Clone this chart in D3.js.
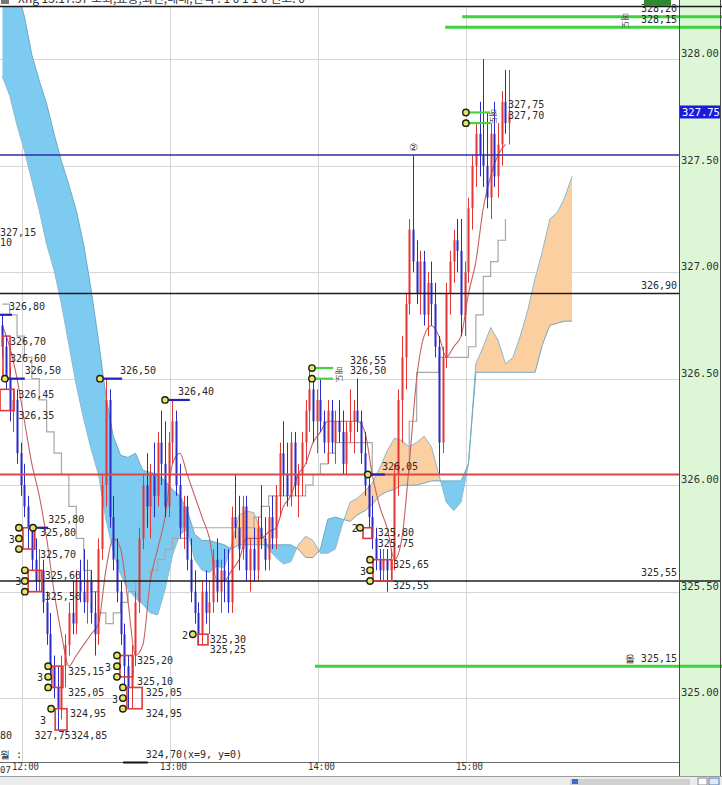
<!DOCTYPE html>
<html><head><meta charset="utf-8">
<script src="https://cdn.jsdelivr.net/npm/d3@7"></script>
<style>
body{margin:0;background:#fff;overflow:hidden}
svg{display:block}
text{font-family:"DejaVu Sans Mono","Liberation Mono",monospace}
</style></head>
<body><svg id="c" width="722" height="785"></svg>
<script>
// ---------------- DATA ----------------
const candleStart = "11:52:00";
const candlePeriodSec = 90;
const opens = [326.75,326.65,326.50,326.35,326.40,326.15,326.00,325.90,325.80,325.65,
325.55,325.60,325.45,325.30,325.15,325.05,324.95,325.15,325.25,325.40,
325.35,325.55,325.50,325.45,325.55,325.40,325.30,325.70,326.00,326.40,
325.85,325.65,325.50,325.30,325.15,325.05,325.20,325.45,325.75,326.00,
325.90,326.05,325.95,326.20,326.10,325.90,326.20,326.30,326.00,325.80,
325.90,325.65,325.50,325.40,325.30,325.50,325.40,325.45,325.65,325.50,
325.60,325.55,325.45,325.85,325.80,325.70,325.90,325.60,325.70,325.60,
325.80,325.75,325.65,325.85,325.75,325.95,326.15,326.05,325.95,326.20,
326.00,326.05,326.20,326.35,326.45,326.30,326.40,326.30,326.20,326.35,
326.20,326.30,326.25,326.10,326.25,326.30,326.35,326.30,326.15,326.00,
325.85,325.75,325.65,325.60,325.65,325.60,325.65,326.05,326.40,326.60,
326.85,327.20,327.05,326.90,327.05,326.80,326.95,326.85,326.65,326.20,
326.60,326.90,327.05,327.15,327.10,326.80,327.00,327.30,327.50,327.65,
327.55,327.50,327.35,327.65,327.45,327.60,327.80,327.70];
const highs = [326.80,326.70,326.55,326.45,326.45,326.20,326.10,325.95,325.80,325.75,
325.70,325.65,325.50,325.40,325.20,325.15,325.20,325.30,325.45,325.55,
325.60,325.65,325.70,325.65,325.60,325.50,325.75,326.05,326.50,326.45,
325.95,325.75,325.55,325.35,325.20,325.25,325.50,325.80,326.05,326.15,
326.10,326.20,326.25,326.35,326.30,326.25,326.40,326.35,326.10,325.95,
325.95,325.75,325.60,325.45,325.55,325.60,325.55,325.70,325.75,325.65,
325.70,325.70,325.90,326.05,325.95,325.95,325.95,325.75,325.80,325.85,
326.00,325.85,325.90,325.95,326.00,326.20,326.30,326.20,326.25,326.25,
326.10,326.25,326.40,326.55,326.50,326.45,326.50,326.35,326.40,326.40,
326.35,326.40,326.35,326.30,326.45,326.40,326.50,326.35,326.25,326.05,
325.95,325.80,325.70,325.70,325.70,325.70,326.10,326.45,326.70,326.90,
327.25,327.55,327.15,327.10,327.10,327.00,327.05,326.95,326.70,326.65,
326.95,327.10,327.20,327.25,327.25,327.05,327.35,327.55,327.70,327.80,
328.00,327.75,327.70,327.80,327.70,327.85,327.95,327.95];
const lows = [326.60,326.45,326.30,326.25,326.10,325.95,325.85,325.70,325.60,325.50,
325.50,325.40,325.25,325.10,325.00,324.85,324.90,325.05,325.20,325.30,
325.30,325.45,325.40,325.35,325.35,325.20,325.25,325.65,325.90,325.80,
325.60,325.45,325.25,325.05,324.95,324.95,325.15,325.40,325.70,325.80,
325.75,325.85,325.90,326.00,325.85,325.85,326.10,325.95,325.75,325.70,
325.60,325.45,325.35,325.25,325.25,325.35,325.30,325.40,325.45,325.40,
325.45,325.40,325.40,325.75,325.60,325.65,325.55,325.50,325.55,325.55,
325.70,325.60,325.60,325.70,325.70,325.85,325.95,325.90,325.90,325.95,
325.85,325.95,326.10,326.25,326.20,326.15,326.25,326.15,326.10,326.15,
326.10,326.20,326.05,326.05,326.20,326.15,326.25,326.10,325.95,325.80,
325.70,325.60,325.55,325.55,325.50,325.55,325.60,325.95,326.20,326.45,
326.80,327.00,326.85,326.80,326.75,326.70,326.75,326.60,326.05,326.15,
326.55,326.80,326.95,327.00,326.70,326.70,326.95,327.20,327.40,327.45,
327.40,327.30,327.25,327.40,327.35,327.50,327.65,327.60];
const closes = [326.65,326.50,326.35,326.40,326.15,326.00,325.90,325.80,325.65,325.55,
325.60,325.45,325.30,325.15,325.05,324.95,325.15,325.25,325.40,325.35,
325.55,325.50,325.45,325.55,325.40,325.30,325.70,326.00,326.40,325.85,
325.65,325.50,325.30,325.15,325.05,325.20,325.45,325.75,326.00,325.90,
326.05,325.95,326.20,326.10,325.90,326.20,326.30,326.00,325.80,325.90,
325.65,325.50,325.40,325.30,325.50,325.40,325.45,325.65,325.50,325.60,
325.55,325.45,325.85,325.80,325.70,325.90,325.60,325.70,325.60,325.80,
325.75,325.65,325.85,325.75,325.95,326.15,326.05,325.95,326.20,326.00,
326.05,326.20,326.35,326.45,326.30,326.40,326.30,326.20,326.35,326.20,
326.30,326.25,326.10,326.25,326.30,326.35,326.30,326.15,326.00,325.85,
325.75,325.65,325.60,325.65,325.60,325.65,326.05,326.40,326.60,326.85,
327.20,327.05,326.90,327.05,326.80,326.95,326.85,326.65,326.20,326.60,
326.90,327.05,327.15,327.10,326.80,327.00,327.30,327.50,327.65,327.55,
327.50,327.35,327.65,327.45,327.60,327.80,327.70,327.75];

// Ichimoku leading spans (one value every 2 candle periods, already shifted forward)
const spanStepCandles = 2;
const spanA = [327.92,327.83,327.69,327.57,327.43,327.29,327.13,327.01,326.85,326.66,
326.47,326.31,326.17,326.05,325.84,325.69,325.58,325.51,325.47,325.44,
325.40,325.39,325.51,325.67,325.77,325.79,325.65,325.60,325.59,325.62,
325.61,325.72,325.86,325.88,325.87,325.78,325.70,325.66,325.63,325.64,
325.72,325.76,325.74,325.68,325.68,325.70,325.82,325.92,325.94,325.97,
326.01,326.08,326.16,326.22,326.21,326.18,326.20,326.23,326.18,326.05,
325.92,325.88,325.92,326.10,326.57,326.65,326.74,326.68,326.57,326.60,
326.70,326.82,326.97,327.10,327.25,327.28,327.35,327.45];
const spanB = [328.50,328.42,328.32,328.20,328.02,327.90,327.79,327.65,327.52,327.41,
327.29,327.13,326.92,326.68,326.42,326.23,326.14,326.13,326.15,326.07,
326.06,326.05,326.02,325.98,325.95,325.88,325.77,325.74,325.74,325.73,
325.72,325.70,325.72,325.72,325.72,325.72,325.72,325.72,325.72,325.72,
325.70,325.66,325.66,325.70,325.84,325.85,325.84,325.83,325.86,325.88,
325.91,325.95,325.97,325.98,326.00,326.00,326.00,326.01,326.02,326.02,
326.02,326.02,326.02,326.10,326.53,326.53,326.53,326.53,326.53,326.53,
326.53,326.53,326.53,326.66,326.75,326.76,326.77,326.77];
// conversion / base lines (same 2-period grid)
const tenkan = [326.75,326.65,326.50,326.30,326.10,325.95,325.75,325.50,325.30,325.15,
325.20,325.25,325.30,325.35,325.60,325.75,325.70,325.45,325.20,325.25,
325.55,325.70,325.85,326.10,326.15,326.05,325.95,325.85,325.75,325.55,
325.55,325.60,325.65,325.75,325.75,325.75,325.78,325.80,325.90,325.95,
326.05,326.10,326.20,326.25,326.30,326.30,326.30,326.30,326.30,326.25,
326.05,325.90,325.80,325.65,325.75,326.10,326.50,326.70,326.75,326.70,
326.60,326.65,326.70,326.90,327.05,327.30,327.45,327.55,327.60];
const kijun = [326.85,326.80,326.70,326.60,326.50,326.40,326.25,326.15,326.05,325.90,
325.75,325.60,325.50,325.40,325.35,325.40,325.45,325.50,325.55,325.55,
325.60,325.65,325.70,325.75,325.75,325.80,325.80,325.80,325.80,325.80,
325.80,325.80,325.80,325.80,325.85,325.90,325.95,325.95,325.95,325.95,
325.95,326.00,326.05,326.10,326.15,326.20,326.20,326.20,326.20,326.20,
326.05,326.05,326.05,326.05,326.05,326.30,326.53,326.53,326.53,326.60,
326.60,326.60,326.60,326.65,326.80,326.98,327.05,327.15,327.25];

const priceTicks = [325.00,325.50,326.00,326.50,327.00,327.50,328.00];
const timeTicks = ["12:00:00","13:00:00","14:00:00","15:00:00"];
const lastPrice = 327.75;

// full-width level lines
const levelPrices = [327.55, 326.90, 326.05, 325.55];
const levelKinds  = ["navy","black","red","black"];
const rightLabelText  = ["326,90","325,55","올 325,15","328,20","328,15"];
const rightLabelPrice = [326.90, 325.55, 325.15, 328.20, 328.15];
// long green order lines
const greenPrices  = [328.20, 328.15, 325.15];
const greenFromIdx = [124.3, 119.7, 84.5];

// short marker segments
const segFromIdx = [-0.6, 0.7, 8.3, 26.4, 44.0, 83.7, 83.7, 98.8, 125.3, 125.3];
const segToIdx   = [ 2.6, 6.1,12.4, 32.4, 50.7, 89.4, 89.4,103.4, 131.8, 131.8];
const segPrice   = [326.80,326.50,325.80,326.50,326.40,326.55,326.50,326.05,327.75,327.70];
const segKind    = ["blue","blue","blue","blue","blue","green","green","blue","green","green"];

// red boxes
const boxFromIdx = [-0.6, 0.2, 5.6, 7.0, 13.4, 14.3, 31.8, 33.7, 52.9, 97.5, 100.2];
const boxToIdx   = [ 3.2, 2.1, 8.8,10.7, 16.4, 17.5, 35.3, 37.8, 55.6, 99.9, 105.3];
const boxHi      = [326.45,326.70,325.80,325.60,325.15,324.95,325.20,325.05,325.30,325.80,325.65];
const boxLo      = [326.35,326.50,325.70,325.50,325.05,324.85,325.10,324.95,325.25,325.75,325.55];

// yellow marker dots
const dotIdx   = [0.7, 4.5,4.5,4.5, 8.3, 6.1,6.1,6.1, 12.4,12.4,12.4, 13.2, 31.0,31.0,31.0, 32.6,32.6,32.6, 26.4, 44.0, 51.5, 83.7,83.7, 98.8, 96.7, 99.4,99.4,99.4, 125.3,125.3];
const dotPrice = [326.50, 325.80,325.75,325.70, 325.80, 325.60,325.55,325.50, 325.15,325.10,325.05, 324.95, 325.20,325.15,325.10, 325.05,325.00,324.95, 326.50, 326.40, 325.30, 326.55,326.50, 326.05, 325.80, 325.65,325.60,325.55, 327.75,327.70];

// text labels on the chart
const labelText = ["327,15","10","326,80","326,70","326,60","326,50","326,45","326,35",
 "325,80","325,80","325,70","325,60","325,50","325,15","325,05","324,95","324,85","327,75","80","월 :",
 "325,20","325,10","325,05","324,95","324,70(x=9, y=0)","326,50","326,40","325,30","325,25",
 "326,55","326,50","326,05","325,80","325,75","325,65","325,55","327,75","327,70","②",
 "3","3","3","3","3","3","2","2","3"];
const labelIdx = [-0.6,-0.6,1.8,2.1,2.1,6.1,4.3,4.3,
 12.4,10.2,10.2,11.5,11.5,17.8,17.8,18.3,18.6,8.7,-0.6,-0.6,
 36.4,36.4,38.8,38.8,38.8,31.8,47.5,56.1,56.1,
 94.0,94.0,102.6,101.5,101.5,105.6,105.6,136.7,136.7,109.8,
 2.6,4.3,10.2,11.0,28.6,30.5,49.4,95.3,97.5];
const labelPrice = [327.15,327.10,326.80,326.70,326.60,326.50,326.45,326.35,
 325.80,325.80,325.70,325.60,325.50,325.15,325.05,324.95,324.85,324.85,324.85,324.70,
 325.20,325.10,325.05,324.95,324.70,326.50,326.40,325.30,325.25,
 326.55,326.50,326.05,325.80,325.75,325.65,325.55,327.75,327.70,327.55,
 325.75,325.55,325.10,324.90,325.15,325.00,325.30,325.80,325.60];
const labelKind = ["above","above","above","below","mid","above","below","below",
 "above","below","below","below","below","below","below","below","below","below","below","above",
 "below","below","below","below","above","above","above","below","below",
 "above","above","above","below","below","below","below","above","above","above",
 "mid","mid","mid","mid","mid","mid","mid","mid","mid"];
const sideNoteText = ["매도","매도","매도"];
const sideNoteIdx = [91.2, 133.0, 168.5];
const sideNotePrice = [326.52, 327.73, 328.18];
const titleText = "Xhg 15:17:37 오회,표동,최전,배배,전략 : 1 0 1 1 0 인코: 0";

// ---------------- DRAW ----------------
const W = 722, H = 785, plotR = 679, plotT = 6, plotB = 762;
const svg = d3.select("#c");
const parseT = d3.timeParse("%H:%M:%S");
const t0 = parseT(candleStart);
const tAt = i => new Date(t0.getTime() + i * candlePeriodSec * 1000);
const x = d3.scaleTime().domain([parseT("11:51:05"), parseT("16:26:21")]).range([0, plotR]);
const y = d3.scaleLinear().domain([324.70, 328.25]).range([plotB, plotT]);
const xi = i => x(tAt(i));

const defs = svg.append("defs");
defs.append("clipPath").attr("id","plot").append("rect")
  .attr("x",0).attr("y",plotT).attr("width",plotR).attr("height",plotB-plotT);

svg.append("rect").attr("width",W).attr("height",H).attr("fill","#fff");

// right axis background
svg.append("rect").attr("x",plotR).attr("y",0).attr("width",41).attr("height",776).attr("fill","#dcf6d6");

const plot = svg.append("g").attr("clip-path","url(#plot)");

// grid
plot.selectAll("line.hg").data(priceTicks).join("line")
  .attr("x1",0).attr("x2",plotR).attr("y1",d=>Math.round(y(d))+0.5).attr("y2",d=>Math.round(y(d))+0.5)
  .attr("stroke","#d6d6d6");
plot.selectAll("line.vg").data(timeTicks).join("line")
  .attr("x1",d=>Math.round(x(parseT(d)))+0.5).attr("x2",d=>Math.round(x(parseT(d)))+0.5)
  .attr("y1",plotT).attr("y2",plotB).attr("stroke","#d6d6d6");

// cloud
const cloud = spanA.map((a,k)=>({t:tAt(k*spanStepCandles), a, b:spanB[k]}));
const aboveA = d3.area().x(d=>x(d.t)).y0(-2000).y1(d=>y(d.a));
const belowA = d3.area().x(d=>x(d.t)).y0(d=>y(d.a)).y1(3000);
defs.append("clipPath").attr("id","cAbove").append("path").attr("d",aboveA(cloud));
defs.append("clipPath").attr("id","cBelow").append("path").attr("d",belowA(cloud));
const between = d3.area().x(d=>x(d.t)).y0(d=>y(d.a)).y1(d=>y(d.b));
plot.append("g").attr("clip-path","url(#cAbove)").append("path").attr("d",between(cloud)).attr("fill","#7ecbf1");
plot.append("g").attr("clip-path","url(#cBelow)").append("path").attr("d",between(cloud)).attr("fill","#fbcf9f");
plot.append("path").attr("d",d3.line().x(d=>x(d.t)).y(d=>y(d.a))(cloud)).attr("fill","none").attr("stroke","#8cb8d0").attr("stroke-width",1);
plot.append("path").attr("d",d3.line().x(d=>x(d.t)).y(d=>y(d.b))(cloud)).attr("fill","none").attr("stroke","#6aaac4").attr("stroke-width",1);

// MA lines
const lineK = (arr)=>arr.map((v,k)=>({t:tAt(k*spanStepCandles), v}));
plot.append("path").attr("d",d3.line().curve(d3.curveStepAfter).x(d=>x(d.t)).y(d=>y(d.v))(lineK(kijun)))
  .attr("fill","none").attr("stroke","#a8a8a8").attr("stroke-width",1.2);
plot.append("path").attr("d",d3.line().curve(d3.curveMonotoneX).x(d=>x(d.t)).y(d=>y(d.v))(lineK(tenkan)))
  .attr("fill","none").attr("stroke","#c86060").attr("stroke-width",1.1);

// candles
const candles = opens.map((o,i)=>({i,o,h:highs[i],l:lows[i],c:closes[i]}));
const col = d => d.c >= d.o ? "#e53535" : "#2b2bcc";
plot.selectAll("line.wick").data(candles).join("line")
  .attr("x1",d=>Math.round(xi(d.i))+0.5).attr("x2",d=>Math.round(xi(d.i))+0.5)
  .attr("y1",d=>y(d.h)).attr("y2",d=>y(d.l)).attr("stroke",col).attr("stroke-width",1);
plot.selectAll("rect.body").data(candles).join("rect")
  .attr("x",d=>Math.round(xi(d.i))-0.5).attr("width",2)
  .attr("y",d=>y(Math.max(d.o,d.c))).attr("height",d=>Math.max(1,Math.abs(y(d.o)-y(d.c))))
  .attr("fill",col);

// level lines
const levelStyle = {navy:["#2e2ea6",1.6], black:["#1e1e1e",1.6], red:["#d84848",2]};
svg.selectAll("line.lvl").data(levelPrices).join("line")
  .attr("x1",0).attr("x2",(d,i)=> i===3 ? 720 : plotR)
  .attr("y1",d=>y(d)).attr("y2",d=>y(d))
  .attr("stroke",(d,i)=>levelStyle[levelKinds[i]][0]).attr("stroke-width",(d,i)=>levelStyle[levelKinds[i]][1]);
svg.selectAll("line.grn").data(greenPrices).join("line")
  .attr("x1",(d,i)=>xi(greenFromIdx[i])).attr("x2",722)
  .attr("y1",d=>y(d)).attr("y2",d=>y(d))
  .attr("stroke","#3fd13f").attr("stroke-width",3);

const ann = svg.append("g").attr("clip-path","url(#plot)");
// boxes
ann.selectAll("rect.box").data(boxHi).join("rect")
  .attr("x",(d,i)=>xi(boxFromIdx[i])).attr("width",(d,i)=>xi(boxToIdx[i])-xi(boxFromIdx[i]))
  .attr("y",d=>y(d)).attr("height",(d,i)=>y(boxLo[i])-y(d))
  .attr("fill","none").attr("stroke","#e03a3a").attr("stroke-width",1.6);
// segments
ann.selectAll("line.seg").data(segPrice).join("line")
  .attr("x1",(d,i)=>xi(segFromIdx[i])).attr("x2",(d,i)=>xi(segToIdx[i]))
  .attr("y1",d=>y(d)).attr("y2",d=>y(d))
  .attr("stroke",(d,i)=>segKind[i]==="blue"?"#2222b8":"#44d444").attr("stroke-width",2.2);
// dots
ann.selectAll("circle.dot").data(dotPrice).join("circle")
  .attr("cx",(d,i)=>xi(dotIdx[i])).attr("cy",d=>y(d)).attr("r",3.2)
  .attr("fill","#e4e46a").attr("stroke","#202010").attr("stroke-width",1.4);
// labels
const dyK = {above:-8, below:5, mid:1};
ann.selectAll("text.lab").data(labelText).join("text")
  .attr("x",(d,i)=>xi(labelIdx[i])).attr("y",(d,i)=>y(labelPrice[i])+dyK[labelKind[i]])
  .attr("dominant-baseline","central")
  .attr("text-anchor",(d,i)=>labelKind[i]==="mid" && d.length===1?"middle":"start")
  .attr("font-size",10).attr("fill","#2a2a2a").text(d=>d);
ann.selectAll("text.side").data(sideNoteText).join("text")
  .attr("transform",(d,i)=>`translate(${xi(sideNoteIdx[i])},${y(sideNotePrice[i])}) rotate(90)`)
  .attr("text-anchor","middle").attr("dominant-baseline","central")
  .attr("font-size",8.5).attr("fill","#555").style("font-family","'Noto Sans CJK KR'").text(d=>d);

// right-side line labels
svg.selectAll("text.rl").data(rightLabelText).join("text")
  .attr("x",677).attr("y",(d,i)=>y(rightLabelPrice[i])-8).attr("dominant-baseline","central")
  .attr("text-anchor","end").attr("font-size",10).attr("fill","#2a2a2a").text(d=>d);

// frame lines
svg.append("line").attr("x1",plotR+0.5).attr("x2",plotR+0.5).attr("y1",0).attr("y2",776).attr("stroke","#4a4a4a");
svg.append("line").attr("x1",720.5).attr("x2",720.5).attr("y1",0).attr("y2",776).attr("stroke","#4a4a4a");
svg.append("line").attr("x1",0).attr("x2",W).attr("y1",6.5).attr("y2",6.5).attr("stroke","#1a1a1a").attr("stroke-width",1.5);
svg.append("line").attr("x1",0).attr("x2",plotR).attr("y1",plotB+0.5).attr("y2",plotB+0.5).attr("stroke","#6a6a6a");
svg.append("line").attr("x1",x(parseT("12:41:00"))).attr("x2",x(parseT("12:51:00"))).attr("y1",plotB+0.5).attr("y2",plotB+0.5).attr("stroke","#111").attr("stroke-width",2);

// right price axis
const yAxis = d3.axisRight(y).tickValues(priceTicks).tickFormat(d3.format(".2f")).tickSize(0).tickPadding(2);
const ga = svg.append("g").attr("transform",`translate(${plotR},0)`).call(yAxis);
ga.select(".domain").remove();
ga.selectAll("text").attr("y",-6).attr("font-size",10.5).attr("fill","#333")
  .style("font-family","'DejaVu Sans Mono',monospace");
// last price tag
svg.append("rect").attr("x",plotR+1).attr("y",y(lastPrice)-7).attr("width",40).attr("height",13).attr("fill","#1a1ae0");
svg.append("text").attr("x",plotR+3).attr("y",y(lastPrice)).attr("dominant-baseline","central")
  .attr("font-size",10.5).attr("fill","#fff").text(d3.format(".2f")(lastPrice));

// bottom time axis
const xAxis = d3.axisBottom(x).tickValues(timeTicks.map(parseT)).tickFormat(d3.timeFormat("%H:%M")).tickSize(0).tickPadding(1);
const gx = svg.append("g").attr("transform",`translate(0,${plotB})`).call(xAxis);
gx.select(".domain").remove();
gx.selectAll("text").attr("font-size",10.5).attr("fill","#333").attr("dx",3)
  .attr("textLength",27).attr("lengthAdjust","spacingAndGlyphs")
  .style("font-family","'DejaVu Sans Mono',monospace");
svg.append("text").attr("x",0).attr("y",plotB+8).attr("dominant-baseline","central").attr("font-size",9).attr("fill","#333").text("07");

// scrollbar
svg.append("rect").attr("x",0).attr("y",776).attr("width",W).attr("height",9).attr("fill","#ececec");
svg.append("line").attr("x1",0).attr("x2",W).attr("y1",776.5).attr("y2",776.5).attr("stroke","#9a9a9a");
svg.append("rect").attr("x",570).attr("y",779).attr("width",120).attr("height",6).attr("fill","#d0d0d0");
svg.append("rect").attr("x",572).attr("y",779).attr("width",6).attr("height",5).attr("fill","#3a6ad0");
svg.append("rect").attr("x",698).attr("y",778).attr("width",9).attr("height",7).attr("fill","#fff").attr("stroke","#888");
svg.append("rect").attr("x",709).attr("y",778).attr("width",10).attr("height",7).attr("fill","#dfe8f6").attr("stroke","#5a7ab0");

// title strip (mostly cut off, as in the source screenshot)
const tg = svg.append("g");
defs.append("clipPath").attr("id","top").append("rect").attr("x",0).attr("y",0).attr("width",W).attr("height",6);
tg.attr("clip-path","url(#top)");
tg.append("rect").attr("x",1).attr("y",-4).attr("width",8).attr("height",8).attr("fill","#777");
tg.append("text").attr("x",18).attr("y",3).attr("font-size",12).attr("fill","#333")
  .style("font-family","'Noto Sans CJK KR'").text(titleText);
tg.append("rect").attr("x",644).attr("y",0).attr("width",27).attr("height",6).attr("fill","#2f8a2f");
</script></body></html>
